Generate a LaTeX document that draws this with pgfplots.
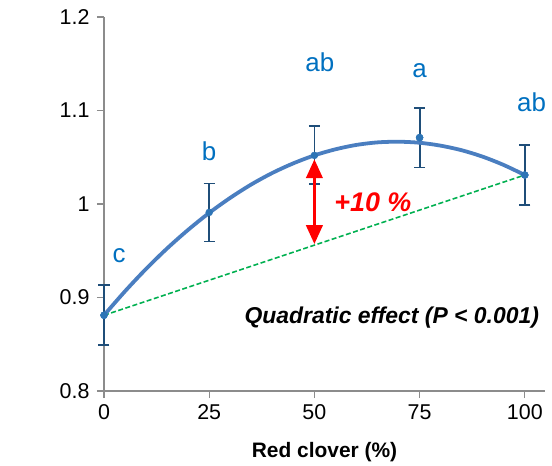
\documentclass[border=0pt]{standalone}
\usepackage{pgfplots}
\pgfplotsset{compat=1.18}
\usepackage{fontspec}
\setmainfont{Liberation Sans}
\usetikzlibrary{arrows.meta}
\definecolor{curveblue}{HTML}{4A7EC0}
\definecolor{ptblue}{HTML}{2E75B6}
\definecolor{errnavy}{HTML}{1F4E79}
\definecolor{letblue}{HTML}{0070C0}
\definecolor{dgreen}{HTML}{00B050}
\definecolor{axgray}{HTML}{8C8C8C}
\begin{document}
\begin{tikzpicture}
\begin{axis}[
  scale only axis, width=441bp, height=374bp,
  xmin=0, xmax=104.8, ymin=0.8, ymax=1.2,
  axis x line*=bottom, axis y line*=left,
  axis line style={axgray, line width=1.2pt, -},
  xtick={0,25,50,75,100}, ytick={0.8,0.9,1,1.1,1.2},
  yticklabels={0.8,0.9,1,1.1,1.2},
  tick style={axgray, line width=1.2pt},
  tick align=outside, major tick length=7bp,
  ticklabel style={font=\fontsize{21.5}{24}\selectfont},
  xticklabel style={yshift=-3bp},
  yticklabel style={xshift=-4bp},
  /pgf/number format/assume math mode=true,
  xlabel={\bfseries Red clover (\%)},
  xlabel style={font=\fontsize{21}{24}\selectfont, yshift=-16bp},
  clip=false,
]
\addplot[dgreen, line width=1.6pt, dashed, dash pattern=on 5bp off 2.5bp] coordinates {(0,0.881) (100,1.031)};
\addplot[only marks, mark=*, mark size=3.5bp, color=ptblue,
  error bars/.cd, y dir=both, y explicit,
  error bar style={errnavy, line width=1.8pt},
  error mark options={errnavy, line width=1.8pt, rotate=90, mark size=5.5bp}]
  coordinates {
  (0,0.881) +- (0,0.032)
  (25,0.991) +- (0,0.031)
  (50,1.052) +- (0,0.031)
  (75,1.071) +- (0,0.032)
  (100,1.031) +- (0,0.032)
};
\addplot[curveblue, line width=3.8pt, smooth] coordinates {
(0,0.881) (5,0.9067) (10,0.9306) (15,0.9525) (20,0.9724) (25,0.9905)
(30,1.0066) (35,1.0209) (40,1.0332) (45,1.0435) (50,1.052) (55,1.0585)
(60,1.0632) (65,1.0659) (70,1.0666) (75,1.0655) (80,1.0624) (85,1.0575)
(90,1.0506) (95,1.0417) (100,1.031)};
\addplot[only marks, mark=*, mark size=3.5bp, color=ptblue] coordinates {(0,0.881) (75,1.071) (100,1.031)};
\addplot[red, line width=3.8pt, {Triangle[width=16bp,length=19bp]}-{Triangle[width=16bp,length=19bp]}] coordinates {(50,0.957) (50,1.048)};
\node[letblue, font=\fontsize{26}{30}\selectfont] at (axis cs:3.6,0.945) {c};
\node[letblue, font=\fontsize{26}{30}\selectfont] at (axis cs:25,1.056) {b};
\node[letblue, font=\fontsize{26}{30}\selectfont] at (axis cs:51.3,1.152) {ab};
\node[letblue, font=\fontsize{26}{30}\selectfont] at (axis cs:75,1.143) {a};
\node[letblue, font=\fontsize{26}{30}\selectfont] at (axis cs:101.6,1.109) {ab};
\node[red, font=\fontsize{27}{30}\selectfont\bfseries\itshape] at (axis cs:63.9,1.002) {+10 \%};
\node[black, anchor=east, font=\fontsize{23}{26}\selectfont\bfseries\itshape] at (axis cs:104.2,0.879) {Quadratic effect (P < 0.001)};
\end{axis}
\path (-104bp,-75bp) rectangle (448bp,391bp);
\end{tikzpicture}
\end{document}
